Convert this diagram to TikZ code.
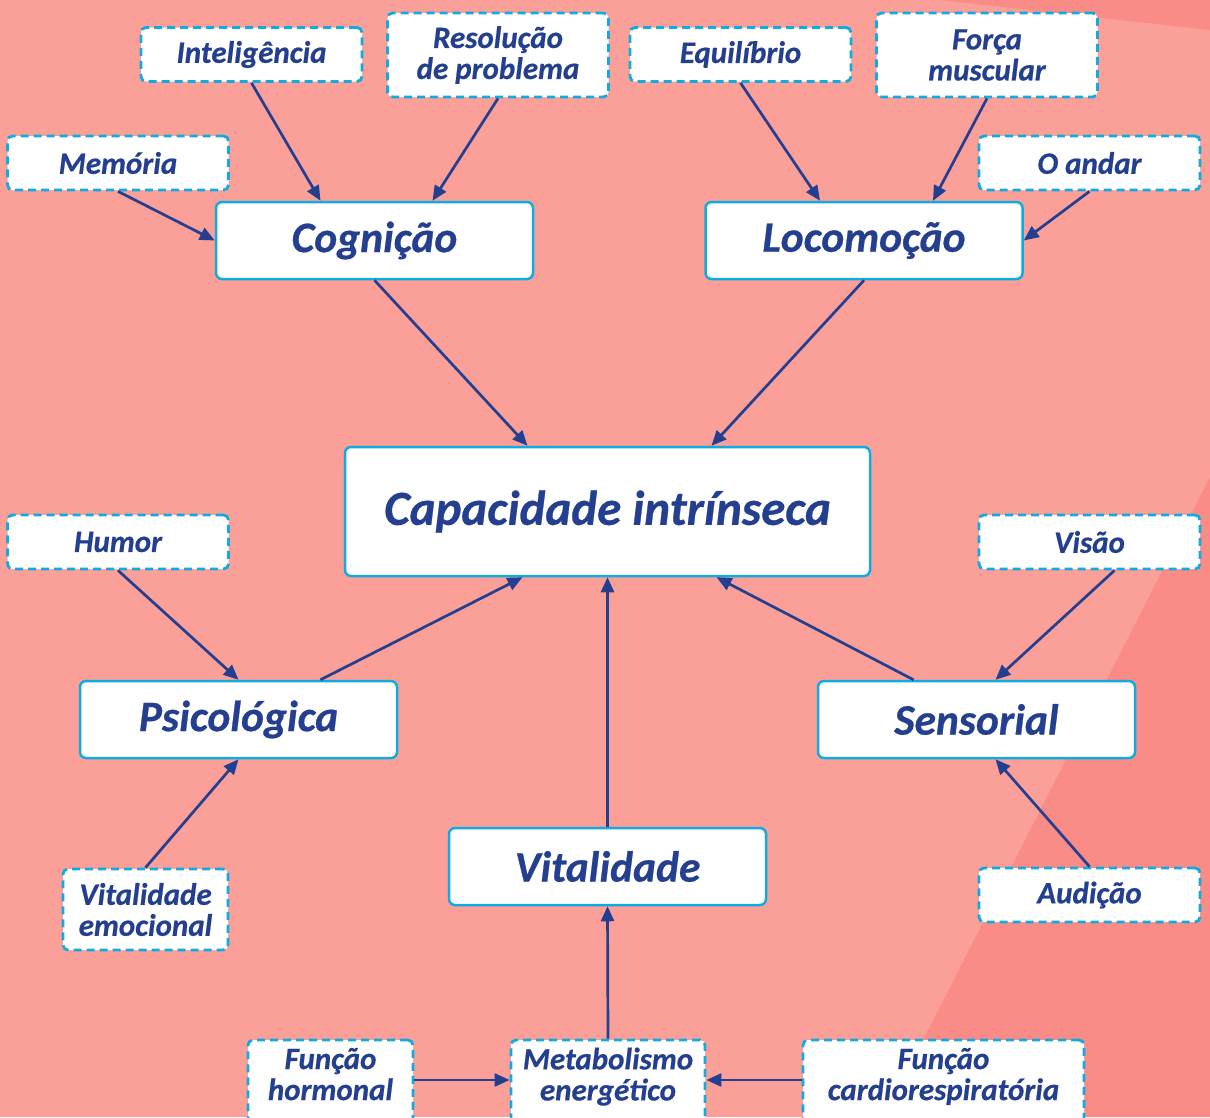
\documentclass[tikz,border=0pt]{standalone}
\usepackage{fontspec}
\setmainfont{Carlito}[BoldItalicFeatures={FakeBold=0.6}]
\usepackage{xcolor}
\usetikzlibrary{arrows.meta,calc}
\definecolor{fundo}{HTML}{FB9F99}
\definecolor{fundoesc}{HTML}{F98C86}
\definecolor{ciano}{HTML}{12ABE0}
\definecolor{azul}{HTML}{243F8F}

\begin{document}
\begin{tikzpicture}[x=1pt, y=-1pt]

% Styles for the concept map
\tikzstyle{grupo}=[rectangle, draw=ciano, fill=white, line width=2.5pt, rounded corners=6pt, minimum width=317pt, minimum height=77pt, text=azul, font=\fontsize{43.5}{46}\selectfont\bfseries\itshape]
\tikzstyle{fator}=[rectangle, draw=ciano, fill=white, line width=2.8pt, dash pattern=on 8pt off 5pt, rounded corners=5pt, minimum width=221pt, minimum height=54pt, inner sep=0pt, align=center, text=azul, font=\fontsize{31}{31}\selectfont\bfseries\itshape]
\tikzstyle{rodape}=[fator, minimum height=84pt, text depth=16pt]
\tikzstyle{seta}=[azul, line width=2.7pt, -{Triangle[length=15pt,width=13pt]}]

% Background
\clip (0,0) rectangle (1210,1117);
\fill[fundo] (0,0) rectangle (1210,1117);
\fill[fundoesc] (1210,477) -- (1210,1117) -- (884,1117) -- cycle;
\fill[fundoesc] (940,0) -- (1210,0) -- (1210,30) -- cycle;

% Top row
\node[fator] (intel) at (251.5,54.5) {Inteligência};
\node[fator, minimum height=84pt] (resol) at (498,55) {Resolução\\de problema};
\node[fator] (equil) at (740.5,54.5) {Equilíbrio};
\node[fator, minimum height=84pt] (forca) at (987,55) {Força\\muscular};
\node[fator] (memo) at (118,163) {Memória};
\node[fator] (andar) at (1089.5,163) {O andar};

% Domains
\node[grupo] (cogn) at (374.5,240.5) {Cognição};
\node[grupo] (loco) at (864,240.5) {Locomoção};
\node[grupo, minimum width=525pt, minimum height=129pt, font=\fontsize{49}{54}\selectfont\bfseries\itshape] (capac) at (607.5,511.5) {Capacidade intrínseca};
\node[grupo] (psico) at (238.5,719.5) {Psicológica};
\node[grupo] (senso) at (976.5,719.5) {Sensorial};
\node[grupo] (vital) at (607.5,866.5) {Vitalidade};

% Side factors
\node[fator] (humor) at (118,542) {Humor};
\node[fator] (visao) at (1089.5,542) {Visão};
\node[fator, minimum width=165pt, minimum height=81pt] (vemoc) at (145.5,909.5) {Vitalidade\\emocional};
\node[fator] (audic) at (1089.5,895) {Audição};

% Bottom row
\node[rodape, minimum width=165pt] (hormo) at (330.5,1082) {Função\\hormonal};
\node[rodape, minimum width=194pt] (metab) at (608,1082) {Metabolismo\\energético};
\node[rodape, minimum width=281pt] (cardio) at (943.5,1082) {Função\\cardiorespiratória};

% Arrows
\draw[seta] (intel.south) -- ($(cogn.north)+(-54,0)$);
\draw[seta] (resol.south) -- ($(cogn.north)+(58,0)$);
\draw[seta] (memo.south) -- (cogn.west);

\draw[seta] (equil.south) -- ($(loco.north)+(-44,0)$);
\draw[seta] (forca.south) -- ($(loco.north)+(69,0)$);
\draw[seta] (andar.south) -- (loco.east);

\draw[seta] (cogn.south) -- ($(capac.north)+(-80,0)$);
\draw[seta] (loco.south) -- ($(capac.north)+(104,0)$);

\draw[seta] (humor.south) -- (psico.north);
\draw[seta] (vemoc.north) -- (psico.south);
\draw[seta] ($(psico.north)+(82,0)$) -- ($(capac.south)+(-85,0)$);

\draw[seta] ($(visao.south)+(25,0)$) -- ($(senso.north)+(19,0)$);
\draw[seta] (audic.north) -- ($(senso.south)+(19,0)$);
\draw[seta] ($(senso.north)+(-63,0)$) -- ($(capac.south)+(109,0)$);

\draw[seta] (vital.north) -- (capac.south);
\draw[seta] (metab.north) -- (vital.south);
\draw[seta] ($(hormo.east)+(0,-2)$) -- ($(metab.west)+(0,-2)$);
\draw[seta] ($(cardio.west)+(0,-2)$) -- ($(metab.east)+(0,-2)$);

\end{tikzpicture}
\end{document}
